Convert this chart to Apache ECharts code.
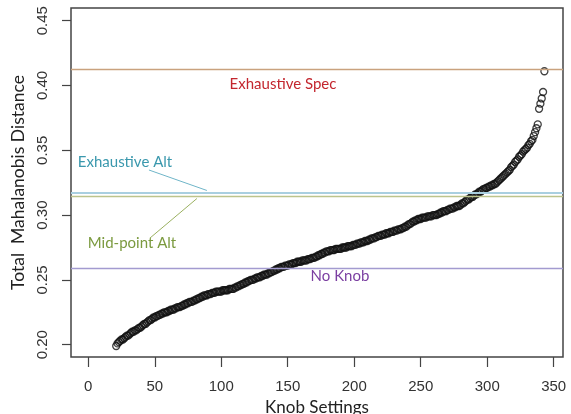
<!DOCTYPE html>
<html>
<head>
<meta charset="utf-8">
<script src="https://cdn.jsdelivr.net/npm/echarts@6/dist/echarts.min.js"></script>
<style>
  html, body { margin: 0; padding: 0; background: #fff; }
  #chart { width: 571px; height: 414px; }
</style>
</head>
<body>
<div id="chart"></div>
<script>
  // knob settings ranked 21..343, distance
  const knobStart = 21
  const distances = [
    0.199, 0.201, 0.202, 0.203, 0.204, 0.204, 0.205, 0.206, 0.207, 0.207,
    0.208, 0.209, 0.210, 0.210, 0.211, 0.211, 0.212, 0.213, 0.213, 0.214,
    0.215, 0.216, 0.216, 0.217, 0.218, 0.219, 0.219, 0.220, 0.221, 0.221,
    0.222, 0.222, 0.223, 0.223, 0.224, 0.224, 0.225, 0.225, 0.225, 0.226,
    0.226, 0.227, 0.227, 0.227, 0.228, 0.228, 0.229, 0.229, 0.229, 0.230,
    0.230, 0.231, 0.231, 0.232, 0.232, 0.233, 0.233, 0.233, 0.234, 0.234,
    0.235, 0.235, 0.236, 0.236, 0.237, 0.237, 0.238, 0.238, 0.238, 0.239,
    0.239, 0.239, 0.240, 0.240, 0.240, 0.241, 0.241, 0.241, 0.241, 0.241,
    0.242, 0.242, 0.242, 0.242, 0.242, 0.243, 0.243, 0.243, 0.243, 0.244,
    0.244, 0.245, 0.245, 0.246, 0.246, 0.247, 0.247, 0.248, 0.248, 0.249,
    0.249, 0.250, 0.250, 0.250, 0.251, 0.251, 0.252, 0.252, 0.252, 0.253,
    0.253, 0.254, 0.254, 0.254, 0.255, 0.255, 0.256, 0.256, 0.257, 0.257,
    0.258, 0.258, 0.259, 0.259, 0.260, 0.260, 0.260, 0.261, 0.261, 0.261,
    0.262, 0.262, 0.262, 0.263, 0.263, 0.263, 0.264, 0.264, 0.264, 0.264,
    0.265, 0.265, 0.265, 0.265, 0.266, 0.266, 0.266, 0.267, 0.267, 0.267,
    0.268, 0.268, 0.269, 0.269, 0.270, 0.270, 0.271, 0.271, 0.272, 0.272,
    0.272, 0.273, 0.273, 0.273, 0.273, 0.274, 0.274, 0.274, 0.274, 0.274,
    0.275, 0.275, 0.275, 0.275, 0.276, 0.276, 0.276, 0.276, 0.277, 0.277,
    0.277, 0.278, 0.278, 0.278, 0.279, 0.279, 0.279, 0.280, 0.280, 0.280,
    0.281, 0.281, 0.282, 0.282, 0.282, 0.283, 0.283, 0.284, 0.284, 0.284,
    0.285, 0.285, 0.285, 0.286, 0.286, 0.286, 0.287, 0.287, 0.287, 0.288,
    0.288, 0.288, 0.289, 0.289, 0.289, 0.290, 0.290, 0.291, 0.291, 0.292,
    0.293, 0.293, 0.294, 0.295, 0.295, 0.296, 0.296, 0.297, 0.297, 0.297,
    0.298, 0.298, 0.298, 0.298, 0.299, 0.299, 0.299, 0.299, 0.300, 0.300,
    0.300, 0.300, 0.301, 0.301, 0.302, 0.302, 0.303, 0.303, 0.303, 0.304,
    0.304, 0.305, 0.305, 0.305, 0.306, 0.306, 0.307, 0.307, 0.307, 0.308,
    0.309, 0.309, 0.310, 0.311, 0.312, 0.312, 0.313, 0.314, 0.314, 0.315,
    0.316, 0.316, 0.317, 0.318, 0.318, 0.319, 0.320, 0.320, 0.321, 0.321,
    0.322, 0.322, 0.323, 0.323, 0.324, 0.324, 0.325, 0.326, 0.327, 0.328,
    0.329, 0.330, 0.331, 0.332, 0.333, 0.334, 0.335, 0.337, 0.338, 0.339,
    0.341, 0.342, 0.343, 0.345, 0.346, 0.347, 0.349, 0.350, 0.351, 0.352,
    0.354, 0.355, 0.357, 0.358, 0.361, 0.364, 0.367, 0.370, 0.382, 0.386,
    0.390, 0.395, 0.411
  ]

  const xTicks = [0, 50, 100, 150, 200, 250, 300, 350]
  const yTicks = [0.20, 0.25, 0.30, 0.35, 0.40, 0.45]

  // reference levels
  const refNames = ['Exhaustive Spec', 'Exhaustive Alt', 'Mid-point Alt', 'No Knob']
  const refValues = [0.4125, 0.3176, 0.3145, 0.259]
  const refLineColors = ['#c9a27e', '#a9cfe0', '#bcc48c', '#a39bd0']
  const refTextColors = ['#c3262e', '#3a98ad', '#7b9a3f', '#7b3fa1']

  const points = distances.map((d, i) => [knobStart + i, d])

  const myChart = echarts.init(document.getElementById('chart'))

  const labelFont = 'Lato, "Open Sans", sans-serif'

  myChart.setOption({
    animation: false,
    grid: {
      left: 71,
      right: 8,
      top: 8,
      bottom: 57,
      outerBoundsMode: 'none',
      show: true,
      borderColor: '#444',
      borderWidth: 1.5
    },
    xAxis: {
      type: 'value',
      min: -13,
      max: 357,
      name: 'Knob Settings',
      nameLocation: 'middle',
      nameGap: 41,
      nameTextStyle: { fontFamily: labelFont, fontSize: 17, color: '#222' },
      axisLine: { show: false, onZero: false },
      splitLine: { show: false },
      axisTick: { show: true, length: 10, customValues: xTicks, lineStyle: { color: '#444', width: 1.2 } },
      axisLabel: {
        customValues: xTicks,
        margin: 22,
        fontFamily: 'Liberation Sans, Arial, sans-serif',
        fontSize: 15,
        color: '#333'
      }
    },
    yAxis: {
      type: 'value',
      min: 0.1905,
      max: 0.4598,
      name: 'Total  Mahalanobis Distance',
      nameLocation: 'middle',
      nameRotate: 90,
      nameGap: 28,
      nameTextStyle: { fontFamily: labelFont, fontSize: 17.5, color: '#222' },
      axisLine: { show: false, onZero: false },
      splitLine: { show: false },
      axisTick: { show: true, length: 9, customValues: yTicks, lineStyle: { color: '#444', width: 1.2 } },
      axisLabel: {
        customValues: yTicks,
        rotate: 90,
        margin: 21,
        fontFamily: 'Liberation Sans, Arial, sans-serif',
        fontSize: 15,
        color: '#333',
        formatter: v => v.toFixed(2)
      }
    },
    series: [
      {
        type: 'scatter',
        data: points,
        symbol: 'circle',
        symbolSize: 7,
        itemStyle: { color: 'rgba(0,0,0,0)', borderColor: '#111', borderWidth: 1.3 },
        markLine: {
          silent: true,
          symbol: 'none',
          precision: 4,
          label: { show: false },
          data: refValues.map((v, i) => ({
            yAxis: v,
            lineStyle: { color: refLineColors[i], width: i === 1 ? 2 : 1.3, type: 'solid' }
          }))
        },
        z: 3
      },
      {
        // arrows pointing from the labels to their lines
        type: 'scatter',
        data: [],
        markLine: {
          silent: true,
          symbol: ['none', 'arrow'],
          symbolSize: [0, 9],
          precision: 4,
          label: { show: false },
          data: [
            [
              { coord: [45.6, 0.3348], lineStyle: { color: '#6fb5c8', width: 1, type: 'solid' } },
              { coord: [89.2, 0.3190] }
            ],
            [
              { coord: [46.4, 0.2823], lineStyle: { color: '#9ab060', width: 1, type: 'solid' } },
              { coord: [81.7, 0.3128] }
            ]
          ]
        }
      }
    ],
    graphic: [
      { type: 'text', x: 283, y: 84, style: { text: refNames[0], fill: refTextColors[0], font: '15px ' + labelFont, align: 'center', verticalAlign: 'middle' } },
      { type: 'text', x: 125, y: 162, style: { text: refNames[1], fill: refTextColors[1], font: '15px ' + labelFont, align: 'center', verticalAlign: 'middle' } },
      { type: 'text', x: 132, y: 243, style: { text: refNames[2], fill: refTextColors[2], font: '15px ' + labelFont, align: 'center', verticalAlign: 'middle' } },
      { type: 'text', x: 340, y: 276, style: { text: refNames[3], fill: refTextColors[3], font: '15px ' + labelFont, align: 'center', verticalAlign: 'middle' } }
    ]
  })
</script>
</body>
</html>
